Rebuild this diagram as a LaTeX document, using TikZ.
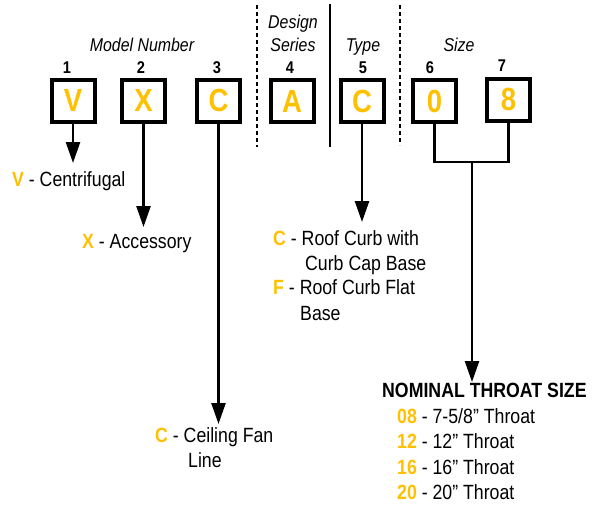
\documentclass[tikz,border=0pt]{standalone}
\usepackage{fontspec}
\setmainfont[FakeStretch=0.86]{Liberation Sans}
\usetikzlibrary{arrows.meta}
\definecolor{codeorange}{RGB}{255,192,0}
\newcommand{\codeltr}[1]{\textcolor{codeorange}{\textbf{#1}}}
\tikzset{
 codebox/.style={draw, line width=4pt, minimum width=43pt, minimum height=42pt, inner sep=0pt,
   font=\fontsize{32}{32}\selectfont\bfseries, text=codeorange},
 posnum/.style={anchor=base, inner sep=0pt, font=\fontsize{17}{17}\selectfont\bfseries},
 grouplbl/.style={anchor=base, inner sep=0pt, font=\fontsize{18.5}{20}\selectfont\itshape},
 desc/.style={anchor=base west, inner sep=0pt, font=\fontsize{20.6}{24}\selectfont},
 conn/.style={line width=2.5pt},
 arr/.style={conn, -{Triangle[length=21pt,width=14pt]}},
 sepdash/.style={line width=2pt, dash pattern=on 4pt off 3pt},
 sepsolid/.style={line width=1.8pt},
}
\begin{document}
\begin{tikzpicture}[x=1pt,y=-1pt]
\useasboundingbox (0,0) rectangle (593,506);
% group labels
\node[grouplbl] (gmodel) at (142,51) {Model Number};
\node[grouplbl] (gdes1) at (293,28) {Design};
\node[grouplbl] (gdes2) at (293,51) {Series};
\node[grouplbl] (gtype) at (363,51) {Type};
\node[grouplbl] (gsize) at (459,51) {Size};
% position numbers
\node[posnum] (n1) at (67,73) {1};
\node[posnum] (n2) at (141,73) {2};
\node[posnum] (n3) at (217,73) {3};
\node[posnum] (n4) at (290,73) {4};
\node[posnum] (n5) at (363,73) {5};
\node[posnum] (n6) at (430,73) {6};
\node[posnum] (n7) at (502,71) {7};
% boxes
\node[codebox] (b1) at (73,100.5) {V};
\node[codebox] (b2) at (143.5,100.5) {X};
\node[codebox] (b3) at (218.5,100.5) {C};
\node[codebox] (b4) at (292,101) {A};
\node[codebox] (b5) at (362,101) {C};
\node[codebox] (b6) at (434.5,101) {0};
\node[codebox] (b7) at (508.5,99.5) {8};
% separators
\coordinate (s1t) at (257,5); \coordinate (s1b) at (257,147);
\coordinate (s2t) at (330,4); \coordinate (s2b) at (330,147);
\coordinate (s3t) at (400,5); \coordinate (s3b) at (400,145);
\draw[sepdash] (s1t) -- (s1b);
\draw[sepsolid] (s2t) -- (s2b);
\draw[sepdash] (s3t) -- (s3b);
% arrow tips
\coordinate (t1) at (73,163);
\coordinate (t2) at (143.5,227);
\coordinate (t3) at (218.5,424);
\coordinate (t5) at (362,222);
\coordinate (j) at (472,162);
\coordinate (t6) at (472,382);
\draw[arr] (b1.south) -- (t1);
\draw[arr] (b2.south) -- (t2);
\draw[arr] (b3.south) -- (t3);
\draw[arr] (b5.south) -- (t5);
\draw[conn] (b6.south) |- (j) -| (b7.south);
\draw[arr] (j) -- (t6);
% descriptions
\node[desc] (dV) at (12,186) {\codeltr{V} - Centrifugal};
\node[desc] (dX) at (82,248) {\codeltr{X} - Accessory};
\node[desc] (dC1) at (273,245) {\codeltr{C} - Roof Curb with};
\node[desc] (dC2) at (305,270) {Curb Cap Base};
\node[desc] (dF1) at (273,294) {\codeltr{F} - Roof Curb Flat};
\node[desc] (dF2) at (300,320) {Base};
\node[desc] (dCF1) at (155,442) {\codeltr{C} - Ceiling Fan};
\node[desc] (dCF2) at (188,467) {Line};
\node[desc, font=\fontsize{20.6}{24}\selectfont\bfseries] (nts) at (382,397) {NOMINAL THROAT SIZE};
\node[desc] (s08) at (397,423) {\codeltr{08} - 7-5/8” Throat};
\node[desc] (s12) at (397,448) {\codeltr{12} - 12” Throat};
\node[desc] (s16) at (397,474) {\codeltr{16} - 16” Throat};
\node[desc] (s20) at (397,499) {\codeltr{20} - 20” Throat};
\end{tikzpicture}
\end{document}
